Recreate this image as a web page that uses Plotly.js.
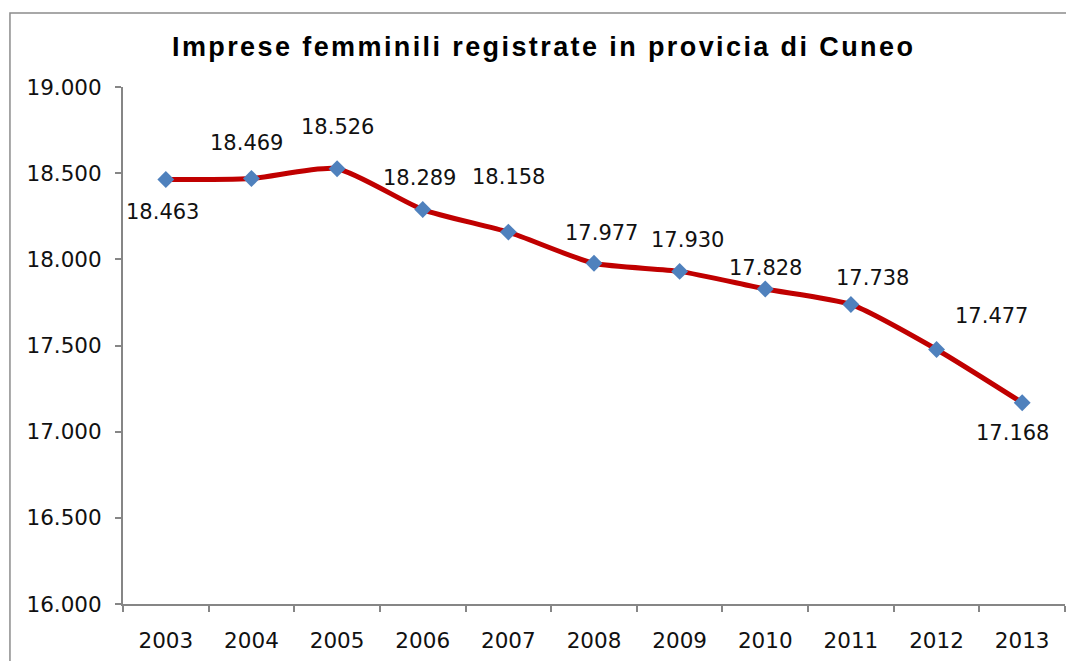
<!DOCTYPE html>
<html>
<head>
<meta charset="utf-8">
<script src="https://cdn.plot.ly/plotly-3.0.1.min.js"></script>
<style>
  body { margin: 0; background: #fff; }
  #chart { width: 1066px; height: 661px; }
  /* the original title is drawn with wide letter spacing */
  #chart .gtitle { letter-spacing: 2.4px; }
</style>
</head>
<body>
<div id="chart"></div>
<script>
// Data
var years = ["2003", "2004", "2005", "2006", "2007", "2008", "2009", "2010", "2011", "2012", "2013"];
var imprese = [18463, 18469, 18526, 18289, 18158, 17977, 17930, 17828, 17738, 17477, 17168];
var yTicks = [16000, 16500, 17000, 17500, 18000, 18500, 19000];

// where each label sits relative to its point (pixels)
var labelDx = [-3, -5, 0, -3, 0, 7, 8, 0, 22, 55, -10];
var labelDy = [-32, 36, 42, 32, 55, 30, 31, 21, 26, 33, -30];

// italian thousands separator
function fmt(n) {
    return String(n).replace(/\B(?=(\d{3})+(?!\d))/g, ".");
}

var trace = {
    x: years,
    y: imprese,
    type: "scatter",
    mode: "lines+markers",
    line: {color: "#C00000", width: 5, shape: "spline", smoothing: 0.6},
    marker: {symbol: "diamond", size: 13, color: "#4F81BD"},
    hoverinfo: "x+y"
};

// category index for the label x, so the axis is not stretched
var labels = years.map(function(yr, i) {
    return {
        x: i, y: imprese[i], text: fmt(imprese[i]),
        showarrow: false, xshift: labelDx[i], yshift: labelDy[i],
        font: {family: "DejaVu Sans", size: 21, color: "#111"}
    };
});

var layout = {
    width: 1066,
    height: 661,
    margin: {l: 123, r: 1, t: 87, b: 57},
    paper_bgcolor: "#fff",
    plot_bgcolor: "#fff",
    showlegend: false,
    title: {
        text: "<b>Imprese femminili registrate in provicia di Cuneo</b>",
        font: {family: "Liberation Sans", size: 27, color: "#000"},
        x: 0.51, xanchor: "center",
        y: 0.929, yanchor: "middle"
    },
    xaxis: {
        type: "category",
        range: [-0.5, years.length - 0.5],
        autorange: false,
        showline: true, linecolor: "#868686", linewidth: 2,
        showgrid: false, zeroline: false,
        ticks: "outside", ticklen: 6, tickcolor: "#868686", tickwidth: 2,
        tickson: "boundaries",
        tickangle: 0,
        ticklabelstandoff: 16,
        tickfont: {family: "DejaVu Sans", size: 21.5, color: "#111"},
        fixedrange: true
    },
    yaxis: {
        range: [16000, 19000],
        autorange: false,
        tickvals: yTicks,
        ticktext: yTicks.map(fmt),
        showline: true, linecolor: "#868686", linewidth: 2,
        showgrid: false, zeroline: false,
        ticks: "outside", ticklen: 6, tickcolor: "#868686", tickwidth: 2,
        ticklabelstandoff: 9,
        tickfont: {family: "DejaVu Sans", size: 21.5, color: "#111"},
        fixedrange: true
    },
    annotations: labels,
    shapes: [{
        type: "rect", xref: "paper", yref: "paper",
        x0: -0.12, x1: 1.2, y0: -0.3, y1: 1.143,
        line: {color: "#8c8c8c", width: 1.5}
    }]
};

Plotly.newPlot("chart", [trace], layout, {displayModeBar: false, staticPlot: true});
</script>
</body>
</html>
